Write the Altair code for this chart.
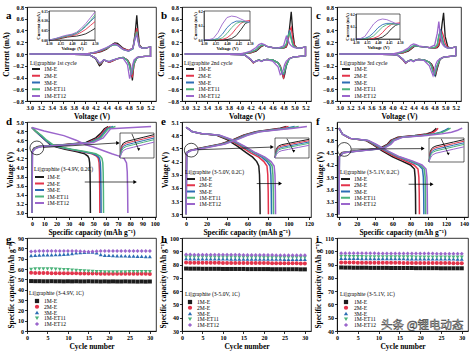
import altair as alt
import pandas as pd

FONT = "Liberation Serif"
SERIES = ["1M-E", "2M-E", "3M-E", "1M-ET11", "1M-ET12"]
COLORS = ["#1c1c1c", "#e3344b", "#2d6db4", "#4db37b", "#9b66cc"]
SHAPES = ["square", "circle", "triangle-up", "triangle-down", "diamond"]

# ---------------- Row 1: CV curves ----------------
CV_X_TICKS = [3.0, 3.2, 3.4, 3.6, 3.8, 4.0, 4.2, 4.4, 4.6, 4.8, 5.0, 5.2]
CV_Y_TICKS = [-0.8, -0.6, -0.4, -0.2, 0.0, 0.2, 0.4, 0.6, 0.8]

A_V_UP = [3.0, 3.6, 4.0, 4.1, 4.2, 4.3, 4.4, 4.5, 4.55, 4.6, 4.7, 4.8, 4.88, 4.92, 4.95, 4.97, 5.0, 5.05, 5.1, 5.2]
A_I_UP = {
    "1M-E":    [0.0, 0.0, 0.0, 0.01, 0.02, 0.04, 0.08, 0.16, 0.19, 0.18, 0.10, 0.06, 0.10, 0.35, 0.66, 0.40, 0.15, 0.10, 0.10, 0.12],
    "2M-E":    [0.0, 0.0, 0.0, 0.01, 0.02, 0.05, 0.09, 0.15, 0.17, 0.16, 0.09, 0.06, 0.10, 0.30, 0.44, 0.30, 0.14, 0.10, 0.10, 0.12],
    "3M-E":    [0.0, 0.0, 0.0, 0.01, 0.03, 0.06, 0.10, 0.15, 0.16, 0.15, 0.08, 0.05, 0.09, 0.28, 0.36, 0.25, 0.13, 0.10, 0.10, 0.12],
    "1M-ET11": [0.0, 0.0, 0.0, 0.01, 0.03, 0.06, 0.10, 0.15, 0.16, 0.15, 0.08, 0.05, 0.09, 0.30, 0.38, 0.26, 0.13, 0.10, 0.10, 0.12],
    "1M-ET12": [0.0, 0.0, 0.0, 0.01, 0.03, 0.07, 0.11, 0.16, 0.17, 0.15, 0.08, 0.05, 0.10, 0.27, 0.33, 0.22, 0.12, 0.10, 0.10, 0.12],
}
A_V_DN = [5.2, 5.1, 5.0, 4.95, 4.9, 4.87, 4.85, 4.82, 4.78, 4.7, 4.6, 4.5, 4.45, 4.4, 4.35, 4.3, 4.27, 4.2, 4.1, 4.0, 3.6, 3.0]
A_I_DN = {
    "1M-E":    [-0.04, -0.04, -0.05, -0.06, -0.15, -0.45, -0.30, -0.16, -0.10, -0.06, -0.08, -0.12, -0.14, -0.12, -0.10, -0.18, -0.20, -0.08, -0.02, -0.01, 0.0, 0.0],
    "2M-E":    [-0.04, -0.04, -0.05, -0.07, -0.18, -0.38, -0.35, -0.17, -0.10, -0.06, -0.08, -0.12, -0.14, -0.12, -0.10, -0.16, -0.17, -0.07, -0.02, -0.01, 0.0, 0.0],
    "3M-E":    [-0.04, -0.04, -0.05, -0.07, -0.16, -0.30, -0.36, -0.20, -0.11, -0.06, -0.08, -0.11, -0.13, -0.12, -0.10, -0.15, -0.16, -0.07, -0.02, -0.01, 0.0, 0.0],
    "1M-ET11": [-0.04, -0.04, -0.05, -0.07, -0.16, -0.28, -0.35, -0.21, -0.11, -0.06, -0.08, -0.11, -0.13, -0.12, -0.10, -0.15, -0.16, -0.07, -0.02, -0.01, 0.0, 0.0],
    "1M-ET12": [-0.04, -0.04, -0.05, -0.06, -0.10, -0.20, -0.30, -0.42, -0.18, -0.07, -0.08, -0.11, -0.13, -0.12, -0.10, -0.14, -0.15, -0.07, -0.02, -0.01, 0.0, 0.0],
}

BC_V_UP = [3.0, 3.6, 4.0, 4.1, 4.2, 4.3, 4.35, 4.4, 4.45, 4.5, 4.6, 4.7, 4.8, 4.85, 4.88, 4.91, 4.94, 4.97, 5.0, 5.05, 5.1, 5.2]
BC_V_DN = [5.2, 5.1, 5.0, 4.95, 4.9, 4.85, 4.82, 4.8, 4.77, 4.74, 4.7, 4.6, 4.5, 4.45, 4.4, 4.35, 4.3, 4.25, 4.2, 4.1, 4.0, 3.6, 3.0]
B_I_UP = {
    "1M-E":    [0.0, 0.0, 0.0, 0.01, 0.02, 0.05, 0.09, 0.13, 0.15, 0.13, 0.11, 0.10, 0.10, 0.12, 0.20, 0.45, 0.72, 0.35, 0.15, 0.10, 0.10, 0.12],
    "2M-E":    [0.0, 0.0, 0.0, 0.01, 0.02, 0.06, 0.10, 0.14, 0.15, 0.13, 0.11, 0.10, 0.10, 0.13, 0.22, 0.40, 0.45, 0.25, 0.14, 0.10, 0.10, 0.12],
    "3M-E":    [0.0, 0.0, 0.0, 0.01, 0.03, 0.07, 0.12, 0.15, 0.15, 0.13, 0.11, 0.10, 0.11, 0.16, 0.30, 0.40, 0.28, 0.16, 0.12, 0.10, 0.10, 0.12],
    "1M-ET11": [0.0, 0.0, 0.0, 0.01, 0.03, 0.07, 0.12, 0.15, 0.15, 0.13, 0.11, 0.10, 0.11, 0.17, 0.30, 0.36, 0.25, 0.15, 0.12, 0.10, 0.10, 0.12],
    "1M-ET12": [0.0, 0.0, 0.0, 0.02, 0.05, 0.11, 0.16, 0.18, 0.16, 0.13, 0.11, 0.10, 0.14, 0.30, 0.25, 0.17, 0.14, 0.12, 0.11, 0.10, 0.10, 0.12],
}
B_I_DN = {
    "1M-E":    [-0.03, -0.04, -0.05, -0.06, -0.08, -0.20, -0.35, -0.42, -0.30, -0.20, -0.15, -0.10, -0.09, -0.10, -0.12, -0.10, -0.12, -0.15, -0.10, -0.02, -0.01, 0.0, 0.0],
    "2M-E":    [-0.03, -0.04, -0.05, -0.06, -0.08, -0.18, -0.30, -0.40, -0.32, -0.20, -0.15, -0.10, -0.09, -0.10, -0.12, -0.10, -0.12, -0.15, -0.10, -0.02, -0.01, 0.0, 0.0],
    "3M-E":    [-0.03, -0.04, -0.05, -0.06, -0.09, -0.20, -0.30, -0.35, -0.33, -0.22, -0.15, -0.10, -0.09, -0.10, -0.12, -0.10, -0.12, -0.14, -0.09, -0.02, -0.01, 0.0, 0.0],
    "1M-ET11": [-0.03, -0.04, -0.05, -0.06, -0.09, -0.19, -0.28, -0.33, -0.31, -0.22, -0.15, -0.10, -0.09, -0.10, -0.12, -0.10, -0.12, -0.14, -0.09, -0.02, -0.01, 0.0, 0.0],
    "1M-ET12": [-0.03, -0.04, -0.05, -0.06, -0.08, -0.12, -0.18, -0.25, -0.33, -0.35, -0.22, -0.12, -0.10, -0.10, -0.13, -0.11, -0.12, -0.14, -0.09, -0.02, -0.01, 0.0, 0.0],
}
C_I_UP = {
    "1M-E":    [0.0, 0.0, 0.0, 0.01, 0.02, 0.05, 0.08, 0.12, 0.14, 0.13, 0.12, 0.11, 0.10, 0.11, 0.14, 0.25, 0.50, 0.70, 0.30, 0.12, 0.10, 0.12],
    "2M-E":    [0.0, 0.0, 0.0, 0.01, 0.02, 0.06, 0.09, 0.13, 0.14, 0.13, 0.12, 0.11, 0.10, 0.12, 0.16, 0.30, 0.38, 0.30, 0.18, 0.11, 0.10, 0.12],
    "3M-E":    [0.0, 0.0, 0.0, 0.01, 0.03, 0.07, 0.11, 0.14, 0.14, 0.13, 0.12, 0.11, 0.11, 0.15, 0.30, 0.42, 0.30, 0.18, 0.13, 0.10, 0.10, 0.12],
    "1M-ET11": [0.0, 0.0, 0.0, 0.01, 0.03, 0.07, 0.11, 0.14, 0.14, 0.13, 0.12, 0.11, 0.11, 0.16, 0.32, 0.38, 0.26, 0.16, 0.12, 0.10, 0.10, 0.12],
    "1M-ET12": [0.0, 0.0, 0.0, 0.02, 0.05, 0.10, 0.15, 0.17, 0.16, 0.14, 0.12, 0.11, 0.15, 0.35, 0.55, 0.30, 0.18, 0.14, 0.12, 0.10, 0.10, 0.12],
}
C_I_DN = {
    "1M-E":    [-0.03, -0.04, -0.05, -0.06, -0.10, -0.25, -0.36, -0.30, -0.22, -0.17, -0.14, -0.10, -0.09, -0.10, -0.12, -0.10, -0.12, -0.16, -0.10, -0.02, -0.01, 0.0, 0.0],
    "2M-E":    [-0.03, -0.04, -0.05, -0.06, -0.09, -0.22, -0.33, -0.35, -0.25, -0.18, -0.14, -0.10, -0.09, -0.10, -0.12, -0.10, -0.12, -0.15, -0.10, -0.02, -0.01, 0.0, 0.0],
    "3M-E":    [-0.03, -0.04, -0.05, -0.06, -0.09, -0.20, -0.30, -0.36, -0.30, -0.20, -0.14, -0.10, -0.09, -0.10, -0.12, -0.10, -0.12, -0.14, -0.09, -0.02, -0.01, 0.0, 0.0],
    "1M-ET11": [-0.03, -0.04, -0.05, -0.06, -0.09, -0.19, -0.28, -0.34, -0.31, -0.21, -0.14, -0.10, -0.09, -0.10, -0.12, -0.10, -0.12, -0.14, -0.09, -0.02, -0.01, 0.0, 0.0],
    "1M-ET12": [-0.03, -0.04, -0.05, -0.06, -0.08, -0.12, -0.18, -0.28, -0.37, -0.30, -0.20, -0.11, -0.10, -0.10, -0.13, -0.11, -0.12, -0.15, -0.09, -0.02, -0.01, 0.0, 0.0],
}

# CV insets (4.30-4.50 V)
INSET_V = [4.30, 4.32, 4.34, 4.36, 4.38, 4.40, 4.42, 4.44, 4.46, 4.48, 4.50]
INSET_X_TICKS = [4.30, 4.35, 4.40, 4.45, 4.50]
A_INSET = {
    "1M-E":    [0.0, 0.002, 0.005, 0.010, 0.015, 0.018, 0.020, 0.025, 0.032, 0.045, 0.060],
    "2M-E":    [0.0, 0.003, 0.007, 0.013, 0.018, 0.022, 0.028, 0.040, 0.055, 0.075, 0.095],
    "3M-E":    [0.0, 0.004, 0.010, 0.016, 0.022, 0.026, 0.034, 0.050, 0.070, 0.095, 0.120],
    "1M-ET11": [0.0, 0.004, 0.010, 0.016, 0.022, 0.028, 0.036, 0.052, 0.075, 0.100, 0.130],
    "1M-ET12": [0.0, 0.005, 0.012, 0.020, 0.026, 0.030, 0.040, 0.060, 0.085, 0.115, 0.145],
}
B_INSET = {
    "1M-E":    [0.0, 0.0, 0.0, 0.0, 0.0, 0.003, 0.010, 0.030, 0.070, 0.115, 0.125],
    "2M-E":    [0.0, 0.0, 0.0, 0.0, 0.004, 0.015, 0.040, 0.080, 0.115, 0.130, 0.135],
    "3M-E":    [0.0, 0.0, 0.002, 0.010, 0.040, 0.085, 0.115, 0.130, 0.130, 0.125, 0.120],
    "1M-ET11": [0.0, 0.0, 0.0, 0.004, 0.015, 0.045, 0.085, 0.115, 0.125, 0.125, 0.120],
    "1M-ET12": [0.0, 0.002, 0.010, 0.050, 0.110, 0.155, 0.165, 0.160, 0.145, 0.130, 0.120],
}
C_INSET = {
    "1M-E":    [0.0, 0.0, 0.0, 0.0, 0.0, 0.004, 0.015, 0.040, 0.080, 0.110, 0.120],
    "2M-E":    [0.0, 0.0, 0.0, 0.0, 0.006, 0.020, 0.050, 0.090, 0.115, 0.125, 0.130],
    "3M-E":    [0.0, 0.0, 0.004, 0.020, 0.050, 0.090, 0.115, 0.125, 0.125, 0.120, 0.115],
    "1M-ET11": [0.0, 0.0, 0.0, 0.008, 0.025, 0.060, 0.095, 0.115, 0.120, 0.120, 0.115],
    "1M-ET12": [0.0, 0.003, 0.020, 0.070, 0.120, 0.150, 0.160, 0.155, 0.140, 0.125, 0.120],
}

# ---------------- Row 2: charge / discharge ----------------
D_CH_V = [3.0, 4.35, 4.42, 4.46, 4.5, 4.55, 4.65, 4.75, 4.85, 4.9]
D_CH_C = {
    "1M-E":    [0, 0.2, 1.5, 5, 25, 44, 52, 56, 59, 62],
    "2M-E":    [0, 0.3, 2.0, 6, 27, 46, 54, 57, 60, 64],
    "3M-E":    [0, 0.3, 2.2, 6.5, 28, 47, 55, 58, 61, 66],
    "1M-ET11": [0, 0.4, 2.5, 7, 29, 48, 56, 59, 62, 68],
    "1M-ET12": [0, 0.5, 3.0, 8, 30, 50, 58, 61, 64, 97],
}
D_DC_V = [4.88, 4.8, 4.7, 4.6, 4.5, 4.45, 4.4, 4.35, 4.3, 4.25, 4.2, 4.1, 3.9, 3.5, 3.0]
D_DC_C = {
    "1M-E":    [0, 3, 7, 11, 15, 20, 27, 36, 43, 45.5, 46.5, 47, 47.3, 47.5, 47.6],
    "2M-E":    [0, 3, 7, 11, 16, 22, 30, 40, 49, 52.5, 54, 54.7, 55, 55.2, 55.3],
    "3M-E":    [0, 3, 7, 11, 16, 22, 31, 41, 50, 53.5, 55, 55.7, 56, 56.2, 56.3],
    "1M-ET11": [0, 3, 8, 12, 17, 23, 32, 43, 52, 55.5, 57, 57.7, 58, 58.2, 58.3],
    "1M-ET12": [0, 10, 26, 36, 44, 50, 55, 60, 65, 71, 75, 77, 77.6, 77.9, 78.1],
}
E_CH_V = [3.0, 4.4, 4.45, 4.5, 4.6, 4.7, 4.8, 4.88, 4.92, 4.96, 5.0]
E_CH_C = {
    "1M-E":    [0, 0.3, 3.0, 12, 34, 46, 56, 68, 80, 92, 98],
    "2M-E":    [0, 0.4, 3.5, 13, 35, 47, 57, 69, 82, 94, 100],
    "3M-E":    [0, 0.5, 4.0, 14, 36, 48, 58, 70, 84, 98, 106],
    "1M-ET11": [0, 0.6, 4.5, 15, 37, 49, 59, 71, 86, 101, 110],
    "1M-ET12": [0, 0.7, 5.0, 16, 38, 50, 60, 72, 88, 105, 118],
}
E_DC_V = [4.98, 4.95, 4.88, 4.84, 4.8, 4.7, 4.55, 4.4, 4.3, 4.2, 4.1, 3.9, 3.5, 3.0]
E_DC_C = {
    "1M-E":    [0, 2, 6, 14, 30, 40, 50, 59, 65, 69, 71, 71.7, 72.1, 72.3],
    "2M-E":    [0, 2, 6, 14, 31, 42, 53, 63, 71, 76, 79, 79.8, 80.2, 80.4],
    "3M-E":    [0, 2, 6, 15, 32, 43, 55, 66, 74, 79, 82, 82.8, 83.2, 83.4],
    "1M-ET11": [0, 2, 6, 15, 32, 44, 56, 67, 76, 81, 84, 84.8, 85.2, 85.4],
    "1M-ET12": [0, 2, 6, 15, 33, 45, 57, 68, 77, 83, 86, 86.8, 87.2, 87.4],
}
F_CH_V = [3.0, 4.4, 4.5, 4.55, 4.6, 4.7, 4.8, 4.88, 4.92, 4.96, 5.0, 5.05, 5.1]
F_CH_C = {
    "1M-E":    [0, 0.2, 3.0, 20, 45, 54, 58, 66, 85, 98, 104, 107, 109],
    "2M-E":    [0, 0.3, 3.5, 22, 47, 55, 59, 68, 88, 101, 106, 109, 111],
    "3M-E":    [0, 0.4, 4.0, 23, 48, 56, 60, 70, 92, 106, 114, 119, 123],
    "1M-ET11": [0, 0.5, 4.5, 24, 49, 57, 61, 71, 94, 108, 116, 121, 125],
    "1M-ET12": [0, 0.6, 5.0, 25, 50, 58, 62, 72, 98, 115, 126, 133, 138],
}
F_DC_V = [5.1, 4.95, 4.85, 4.8, 4.7, 4.55, 4.4, 4.3, 4.2, 4.1, 3.9, 3.5, 3.0]
F_DC_C = {
    "1M-E":    [0, 4, 12, 30, 38, 48, 60, 70, 80, 84.5, 85.3, 85.7, 85.9],
    "2M-E":    [0, 4, 12, 31, 39, 50, 63, 74, 84, 88.5, 89.5, 89.9, 90.1],
    "3M-E":    [0, 4, 13, 32, 40, 52, 66, 78, 89, 93.5, 94.5, 94.9, 95.1],
    "1M-ET11": [0, 4, 13, 32, 41, 53, 67, 80, 91, 95.5, 96.5, 96.9, 97.1],
    "1M-ET12": [0, 4, 13, 33, 42, 54, 68, 82, 93, 97.5, 98.5, 98.9, 99.1],
}
# zoomed inset of the start of charge
GCD_INSET_CAP = [0.0, 0.4, 1.0, 2.0, 4.0, 7.0, 10.0]
GCD_INSET_V = {
    "1M-E":    [4.30, 4.44, 4.48, 4.50, 4.52, 4.55, 4.58],
    "2M-E":    [4.30, 4.42, 4.46, 4.48, 4.50, 4.53, 4.56],
    "3M-E":    [4.30, 4.40, 4.44, 4.46, 4.48, 4.51, 4.54],
    "1M-ET11": [4.30, 4.38, 4.42, 4.44, 4.46, 4.49, 4.52],
    "1M-ET12": [4.30, 4.35, 4.39, 4.41, 4.43, 4.46, 4.49],
}

# ---------------- Row 3: cycling ----------------
CYCLES = [1, 2, 3, 4, 5, 6, 7, 8, 9, 10, 11, 12, 13, 14, 15, 16, 17, 18, 19, 20,
          21, 22, 23, 24, 25, 26, 27, 28, 29, 30]
G_Q = {
    "1M-E":    [48.3, 48.2, 48.2, 48.1, 48.1, 48.2, 48.1, 48.1, 48.0, 48.1, 48.0, 48.1, 48.0, 48.0, 48.1,
                48.0, 48.0, 47.9, 48.0, 47.9, 48.0, 47.9, 47.9, 48.0, 47.9, 47.9, 47.8, 47.9, 47.8, 47.9],
    "2M-E":    [56.3, 56.2, 56.2, 56.1, 56.1, 56.0, 56.0, 55.9, 55.9, 55.8, 55.8, 55.8, 55.7, 55.7, 55.6,
                55.6, 55.6, 55.5, 55.5, 55.5, 55.5, 55.4, 55.4, 55.4, 55.4, 55.3, 55.3, 55.3, 55.3, 55.2],
    "3M-E":    [73.0, 73.4, 73.6, 73.7, 73.7, 73.8, 73.9, 74.0, 74.2, 74.5, 75.0, 75.6, 76.0, 76.3, 76.5,
                76.4, 75.8, 74.0, 73.4, 73.2, 73.0, 72.9, 72.8, 72.7, 72.6, 72.5, 72.4, 72.3, 72.2, 72.1],
    "1M-ET11": [59.5, 60.0, 60.1, 60.1, 60.0, 59.9, 59.8, 59.6, 59.4, 59.2, 58.9, 58.6, 58.3, 58.0, 57.8,
                57.6, 57.4, 57.3, 57.2, 57.2, 57.2, 57.2, 57.2, 57.2, 57.3, 57.3, 57.3, 57.3, 57.3, 57.3],
    "1M-ET12": [77.0, 77.2, 77.3, 77.3, 77.3, 77.3, 77.4, 77.4, 77.4, 77.4, 77.4, 77.3, 77.2, 77.0, 76.8,
                77.0, 77.2, 77.3, 77.4, 77.4, 77.5, 77.5, 77.5, 77.5, 77.5, 77.5, 77.5, 77.5, 77.5, 77.5],
}
H_Q = {
    "1M-E":    [77.0, 76.9, 76.9, 76.9, 76.8, 76.8, 76.8, 76.8, 76.8, 76.7, 76.7, 76.7, 76.7, 76.7, 76.7,
                76.6, 76.6, 76.6, 76.6, 76.6, 76.6, 76.5, 76.5, 76.5, 76.5, 76.5, 76.5, 76.5, 76.4, 76.4],
    "2M-E":    [81.5, 81.4, 81.4, 81.4, 81.3, 81.3, 81.3, 81.3, 81.3, 81.2, 81.2, 81.2, 81.2, 81.2, 81.2,
                81.1, 81.1, 81.1, 81.1, 81.1, 81.1, 81.0, 81.0, 81.0, 81.0, 81.0, 81.0, 81.0, 80.9, 80.9],
    "3M-E":    [84.5, 84.4, 84.4, 84.4, 84.4, 84.3, 84.3, 84.3, 84.3, 84.3, 84.3, 84.2, 84.2, 84.2, 84.2,
                84.2, 84.2, 84.2, 84.1, 84.1, 84.1, 84.1, 84.1, 84.1, 84.0, 84.0, 84.0, 84.0, 84.0, 84.0],
    "1M-ET11": [85.8, 85.8, 85.7, 85.7, 85.7, 85.7, 85.6, 85.6, 85.6, 85.6, 85.6, 85.6, 85.5, 85.5, 85.5,
                85.5, 85.5, 85.5, 85.5, 85.4, 85.4, 85.4, 85.4, 85.4, 85.4, 85.4, 85.3, 85.3, 85.3, 85.3],
    "1M-ET12": [87.5, 87.5, 87.4, 87.4, 87.4, 87.4, 87.4, 87.3, 87.3, 87.3, 87.3, 87.3, 87.3, 87.3, 87.2,
                87.2, 87.2, 87.2, 87.2, 87.2, 87.2, 87.2, 87.1, 87.1, 87.1, 87.1, 87.1, 87.1, 87.1, 87.1],
}
I_Q = {
    "1M-E":    [87.8, 87.7, 87.7, 87.6, 87.6, 87.6, 87.6, 87.5, 87.5, 87.5, 87.5, 87.5, 87.4, 87.4, 87.4,
                87.4, 87.4, 87.4, 87.3, 87.3, 87.3, 87.3, 87.3, 87.3, 87.2, 87.2, 87.2, 87.2, 87.2, 87.2],
    "2M-E":    [91.6, 91.5, 91.5, 91.5, 91.4, 91.4, 91.4, 91.4, 91.4, 91.3, 91.3, 91.3, 91.3, 91.3, 91.3,
                91.2, 91.2, 91.2, 91.2, 91.2, 91.2, 91.1, 91.1, 91.1, 91.1, 91.1, 91.1, 91.0, 91.0, 91.0],
    "3M-E":    [94.8, 94.8, 94.7, 94.7, 94.7, 94.6, 94.6, 94.6, 94.6, 94.6, 94.5, 94.5, 94.5, 94.5, 94.5,
                94.5, 94.4, 94.4, 94.4, 94.4, 94.4, 94.4, 94.3, 94.3, 94.3, 94.3, 94.3, 94.3, 94.2, 94.2],
    "1M-ET11": [96.0, 96.0, 95.9, 95.9, 95.9, 95.9, 95.8, 95.8, 95.8, 95.8, 95.8, 95.8, 95.7, 95.7, 95.7,
                95.7, 95.7, 95.7, 95.6, 95.6, 95.6, 95.6, 95.6, 95.6, 95.6, 95.5, 95.5, 95.5, 95.5, 95.5],
    "1M-ET12": [98.6, 98.6, 98.6, 98.5, 98.5, 98.5, 98.5, 98.5, 98.5, 98.4, 98.4, 98.4, 98.4, 98.4, 98.4,
                98.4, 98.3, 98.3, 98.3, 98.3, 98.3, 98.3, 98.3, 98.2, 98.2, 98.2, 98.2, 98.2, 98.2, 98.2],
}
WATERMARK = "头条 @锂电动态"

CAP_TITLE = "Specific capacity (mAh g\u207b\u00b9)"


# ---------------- helpers ----------------
def check(xs, d):
    for s in SERIES:
        if len(d[s]) != len(xs):
            raise ValueError(f"length mismatch {s}: {len(d[s])} vs {len(xs)}")


def cv_frame(v_up, i_up, v_dn, i_dn):
    check(v_up, i_up)
    check(v_dn, i_dn)
    rows = []
    for s in SERIES:
        pts = list(zip(v_up, i_up[s])) + list(zip(v_dn, i_dn[s]))
        for o, (v, i) in enumerate(pts):
            rows.append({"v": v, "i": i, "s": s, "o": o})
    return pd.DataFrame(rows)


def xy_frame(xs, ys):
    check(xs, ys)
    rows = []
    for s in SERIES:
        for o, (x, y) in enumerate(zip(xs, ys[s])):
            rows.append({"x": x, "y": y, "s": s, "o": o})
    return pd.DataFrame(rows)


def gcd_frame(ch_v, ch_c, dc_v, dc_c):
    check(ch_v, ch_c)
    check(dc_v, dc_c)
    rows = []
    for s in SERIES:
        for o, (v, c) in enumerate(zip(ch_v, ch_c[s])):
            rows.append({"cap": c, "v": v, "s": s, "k": "charge", "o": o})
        for o, (v, c) in enumerate(zip(dc_v, dc_c[s])):
            rows.append({"cap": c, "v": v, "s": s, "k": "discharge", "o": o})
    return pd.DataFrame(rows)


def cyc_frame(vals):
    check(CYCLES, vals)
    rows = []
    for s in SERIES:
        for c, q in zip(CYCLES, vals[s]):
            rows.append({"cycle": c, "q": q, "s": s})
    return pd.DataFrame(rows)


def axis(title, values, fmt):
    return alt.Axis(title=title, values=values, format=fmt, labelFlush=False, labelOverlap=False)


def inset_axis(orient, offset, values, fmt, title):
    return alt.Axis(orient=orient, offset=offset, values=values, format=fmt, title=title,
                    labelFontSize=3.6, titleFontSize=4.6, tickSize=1.2, labelPadding=0.4,
                    titlePadding=0.4, labelFlush=False, labelOverlap=False, zindex=3,
                    domainWidth=0.5, tickWidth=0.5, labelFontWeight="bold")


COLOR_SCALE = alt.Scale(domain=SERIES, range=COLORS)
SHAPE_SCALE = alt.Scale(domain=SERIES, range=SHAPES)


def color_enc():
    return alt.Color("s:N", scale=COLOR_SCALE, legend=None)


def legend_group(title, geom, kind):
    """Hand-built key: title, symbols and labels stacked with a point scale."""
    tx, ty, sx0, sx1, lx, y0, y1 = geom
    ldf = pd.DataFrame({"s": SERIES})
    LY = alt.Y("s:N", type="nominal", scale=alt.Scale(type="point", domain=SERIES, range=[y0, y1], padding=0),
               axis=None)
    ttl = alt.Chart(pd.DataFrame({"t": [title]})).mark_text(
        font=FONT, fontSize=5.6, align="left", baseline="middle", color="black"
    ).encode(x=alt.value(tx), y=alt.value(ty), text="t:N")
    labels = alt.Chart(ldf).mark_text(
        font=FONT, fontSize=5.6, align="left", baseline="middle", color="black"
    ).encode(x=alt.value(lx), y=LY, text="s:N")
    if kind == "line":
        sym = alt.Chart(ldf).mark_rule(strokeWidth=2).encode(
            x=alt.value(sx0), x2=alt.value(sx1), y=LY, color=color_enc())
    else:
        sym = alt.Chart(ldf).mark_point(filled=True, size=18, opacity=1, strokeWidth=0).encode(
            x=alt.value(sx0), y=LY, color=color_enc(),
            shape=alt.Shape("s:N", scale=SHAPE_SCALE, legend=None))
    return alt.layer(ttl, sym, labels)


def letter(ch, y):
    return alt.Chart(pd.DataFrame({"t": [ch]})).mark_text(
        font=FONT, fontSize=11, fontWeight="bold", align="left", baseline="middle", color="black"
    ).encode(x=alt.value(-21), y=alt.value(y), text="t:N")


def frame_box(box):
    x0, x1, y0, y1 = box
    return alt.Chart(pd.DataFrame({"k": [0]})).mark_rect(
        fill="white", stroke="black", strokeWidth=0.6
    ).encode(x=alt.value(x0), x2=alt.value(x1), y=alt.value(y0), y2=alt.value(y1))


# ---------------- panels ----------------
def cv_panel(df, ins_df, ch, leg_title, width, box, ins_ydom, ins_yticks, ins_yfmt, leg):
    H = 94
    X = alt.X("v:Q", scale=alt.Scale(domain=[2.95, 5.3], nice=False, zero=False),
              axis=axis("Voltage (V)", CV_X_TICKS, ".1f"))
    Y = alt.Y("i:Q", scale=alt.Scale(domain=[-0.8, 0.8], nice=False, zero=False),
              axis=axis("Current (mA)", CV_Y_TICKS, ".1f"))
    lines = alt.Chart(df).mark_line(strokeWidth=1.3, clip=True).encode(
        x=X, y=Y, color=color_enc(), order="o:Q")
    main = alt.layer(lines, letter(ch, 9))
    x0, x1, y0, y1 = box
    IX = alt.X("x:Q", scale=alt.Scale(domain=[4.30, 4.50], range=[x0, x1], nice=False, zero=False),
               axis=inset_axis("bottom", y1 - H, INSET_X_TICKS, ".2f", "Voltage (V)"))
    IY = alt.Y("y:Q", scale=alt.Scale(domain=ins_ydom, range=[y1, y0], nice=False, zero=False),
               axis=inset_axis("left", -x0, ins_yticks, ins_yfmt, "Current (mA)"))
    ilines = alt.Chart(ins_df).mark_line(strokeWidth=0.9).encode(
        x=IX, y=IY, color=color_enc(), order="o:Q")
    inset = alt.layer(frame_box(box), ilines)
    return alt.layer(main, inset, legend_group(leg_title, leg, "line")).resolve_scale(
        x="independent", y="independent").properties(width=width, height=H)


def gcd_panel(df, ch, width, xdom, ydom, xticks, yticks, yfmt, leg_title, leg,
              circle, arrows, box, ins_arrow):
    H = 95
    X = alt.X("cap:Q", scale=alt.Scale(domain=xdom, nice=False, zero=False),
              axis=axis(CAP_TITLE, xticks, "d"))
    Y = alt.Y("v:Q", scale=alt.Scale(domain=ydom, nice=False, zero=False),
              axis=axis("Voltage (V)", yticks, yfmt))
    lines = alt.Chart(df).mark_line(strokeWidth=1.5, clip=True).encode(
        x=X, y=Y, color=color_enc(), detail="k:N", order="o:Q")
    circ = alt.Chart(pd.DataFrame({"cap": [circle[0]], "v": [circle[1]]})).mark_point(
        shape="circle", size=190, filled=False, color="black", strokeWidth=0.7, opacity=1
    ).encode(x=X, y=Y)
    adf = pd.DataFrame({"cap": [a[0] for a in arrows], "v": [a[1] for a in arrows],
                        "cap2": [a[2] for a in arrows], "v2": [a[3] for a in arrows]})
    rules = alt.Chart(adf).mark_rule(color="black", strokeWidth=0.7).encode(
        x=X, y=Y, x2="cap2:Q", y2="v2:Q")
    hdf = pd.DataFrame({"cap": [a[2] for a in arrows], "v": [a[3] for a in arrows]})
    heads = alt.Chart(hdf).mark_point(shape="triangle-right", filled=True, size=16,
                                      color="black", opacity=1).encode(x=X, y=Y)
    main = alt.layer(lines, circ, rules, heads, letter(ch, 0))

    x0, x1, y0, y1 = box
    IX = alt.X("x:Q", scale=alt.Scale(domain=[0, 10], range=[x0, x1], nice=False, zero=False), axis=None)
    IY = alt.Y("y:Q", scale=alt.Scale(domain=[4.3, 4.6], range=[y1, y0], nice=False, zero=False), axis=None)
    ilines = alt.Chart(xy_frame(GCD_INSET_CAP, GCD_INSET_V)).mark_line(strokeWidth=1.0).encode(
        x=IX, y=IY, color=color_enc(), order="o:Q")
    iadf = pd.DataFrame({"x": [ins_arrow[0]], "y": [ins_arrow[1]],
                         "x2": [ins_arrow[2]], "y2": [ins_arrow[3]]})
    irule = alt.Chart(iadf).mark_rule(color="black", strokeWidth=0.7).encode(
        x=IX, y=IY, x2="x2:Q", y2="y2:Q")
    ihead = alt.Chart(pd.DataFrame({"x": [ins_arrow[2]], "y": [ins_arrow[3]]})).mark_point(
        shape="triangle-down", filled=True, size=10, color="black", opacity=1).encode(x=IX, y=IY)
    inset = alt.layer(frame_box(box), ilines, irule, ihead)
    return alt.layer(main, inset, legend_group(leg_title, leg, "line")).resolve_scale(
        x="independent", y="independent").properties(width=width, height=H)


def cyc_panel(df, ch, width, ydom, yticks, leg_title, leg, watermark=False):
    H = 93
    X = alt.X("cycle:Q", scale=alt.Scale(domain=[0, 31.5], nice=False, zero=False),
              axis=axis("Cycle number", [0, 5, 10, 15, 20, 25, 30], "d"))
    Y = alt.Y("q:Q", scale=alt.Scale(domain=ydom, nice=False, zero=False),
              axis=axis(CAP_TITLE, yticks, "d"))
    pts = alt.Chart(df).mark_point(filled=True, size=16, opacity=1, strokeWidth=0).encode(
        x=X, y=Y, color=color_enc(), shape=alt.Shape("s:N", scale=SHAPE_SCALE, legend=None))
    layers = [pts, letter(ch, 2)]
    if watermark:
        wm = alt.Chart(pd.DataFrame({"cycle": [10.6], "q": [43.5], "t": [WATERMARK]})).mark_text(
            font="Noto Sans CJK SC", fontSize=11.5, fill="#f7f7f7", stroke="#3a3a3a",
            strokeWidth=0.5, align="left", baseline="middle"
        ).encode(x=X, y=Y, text="t:N")
        layers.append(wm)
    main = alt.layer(*layers)
    return alt.layer(main, legend_group(leg_title, leg, "point")).resolve_scale(
        y="independent").properties(width=width, height=H)


# legend geometry: title x, title y, symbol x0, symbol x1, label x, first row y, last row y
pa = cv_panel(cv_frame(A_V_UP, A_I_UP, A_V_DN, A_I_DN), xy_frame(INSET_V, A_INSET), "a",
              "Li||graphite 1st cycle", 129, (22, 68, 4, 33), [0, 0.15],
              [0.0, 0.05, 0.10, 0.15], ".2f", (3, 56, 5, 13, 17, 62, 89))
pb = cv_panel(cv_frame(BC_V_UP, B_I_UP, BC_V_DN, B_I_DN), xy_frame(INSET_V, B_INSET), "b",
              "Li||graphite 2nd cycle", 129, (22, 68, 4, 33), [0, 0.2],
              [0.0, 0.1, 0.2], ".1f", (2, 56, 4, 12, 16, 62, 89))
pc = cv_panel(cv_frame(BC_V_UP, C_I_UP, BC_V_DN, C_I_DN), xy_frame(INSET_V, C_INSET), "c",
              "Li||graphite 3rd cycle", 124, (19, 63, 7, 32), [0, 0.2],
              [0.0, 0.1, 0.2], ".1f", (3, 56, 5, 13, 17, 62, 89))

pd_ = gcd_panel(gcd_frame(D_CH_V, D_CH_C, D_DC_V, D_DC_C), "d", 129, [-4, 101], [2.91, 5.0],
                [0, 10, 20, 30, 40, 50, 60, 70, 80, 90, 100],
                [3.0, 3.2, 3.4, 3.6, 3.8, 4.0, 4.2, 4.4, 4.6, 4.8, 5.0], ".1f",
                "Li||graphite (3-4.9V, 0.2C)", (7, 47, 8, 17, 20, 55, 81), (4, 4.43),
                [(9, 4.44, 70, 4.54), (43, 3.68, 84, 3.68)], (93, 127, 11, 36), (3.5, 4.59, 5.5, 4.40))
pe = gcd_panel(gcd_frame(E_CH_V, E_CH_C, E_DC_V, E_DC_C), "e", 129, [-4, 122], [2.94, 5.1],
               [0, 20, 40, 60, 80, 100, 120],
               [3.0, 3.3, 3.6, 3.9, 4.2, 4.5, 4.8, 5.1], ".1f",
               "Li||graphite (3-5.0V, 0.2C)", (3, 50, 5, 13, 17, 57, 82), (5, 4.46),
               [(12, 4.47, 84, 4.53), (69, 3.7, 92, 3.7)], (93, 127, 16, 36), (3.5, 4.59, 5.5, 4.40))
pf = gcd_panel(gcd_frame(F_CH_V, F_CH_C, F_DC_V, F_DC_C), "f", 131, [-2.2, 144.5], [2.93, 5.25],
               [0, 20, 40, 60, 80, 100, 120, 140],
               [3.0, 3.3, 3.6, 3.9, 4.2, 4.5, 4.8, 5.1], ".1f",
               "Li||graphite (3-5.1V, 0.2C)", (3, 50, 4, 13, 17, 57, 82), (6, 4.58),
               [(14, 4.59, 94, 4.6), (78, 3.73, 104, 3.73)], (92, 127, 16, 40), (3.5, 4.59, 5.5, 4.40))

pg = cyc_panel(cyc_frame(G_Q), "g", 129, [0, 90], [0, 10, 20, 30, 40, 50, 60, 70, 80, 90],
               "Li||graphite (3-4.9V, 1C)", (2, 55, 10, 0, 17, 63, 86))
ph = cyc_panel(cyc_frame(H_Q), "h", 129, [30, 100], [30, 40, 50, 60, 70, 80, 90, 100],
               "Li||graphite (3-5.0V, 1C)", (3, 56, 8, 0, 15, 64, 87))
pi = cyc_panel(cyc_frame(I_Q), "i", 131, [40, 110], [40, 50, 60, 70, 80, 90, 100, 110],
               "Li||graphite (3-5.1V, 1C)", (3, 56, 9, 0, 17, 64, 87), watermark=True)

chart = alt.concat(
    pa, pb, pc, pd_, pe, pf, pg, ph, pi,
    columns=3, spacing={"row": 21, "column": 26}, bounds="flush"
).resolve_scale(color="independent", shape="independent").properties(
    padding={"left": 2, "top": 3, "right": 2, "bottom": 2}, background="white"
).configure_axis(
    labelFont=FONT, titleFont=FONT, labelFontSize=6, labelFontWeight="bold", titleFontSize=7.5,
    titleFontWeight="bold", tickSize=2.5, tickWidth=0.8, tickColor="black", domainColor="black",
    domainWidth=0.8, labelColor="black", titleColor="black", grid=False, labelPadding=1,
    titlePadding=2
).configure_view(stroke="black", strokeWidth=0.8)

chart.save("out.html", embed_options={"renderer": "svg", "actions": False})
